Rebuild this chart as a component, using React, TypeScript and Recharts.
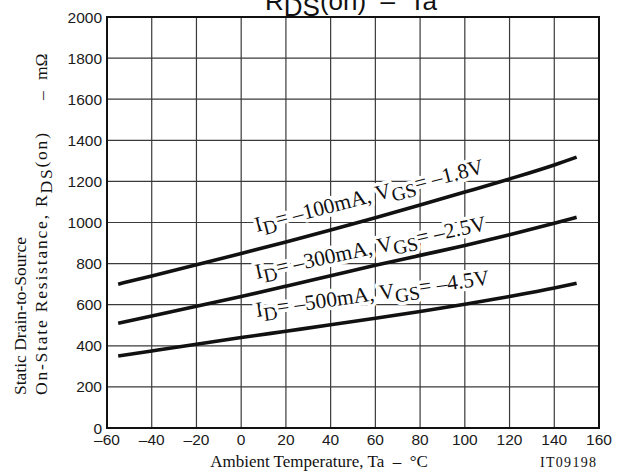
import {
  LineChart,
  Line,
  XAxis,
  YAxis,
  CartesianGrid,
  ReferenceArea,
  ReferenceDot,
} from "recharts";

// ambient temperature, degC
const temps = [-55, -40, -20, 0, 20, 40, 60, 80, 100, 120, 140, 150];
// RDS(on), mOhm
const rds100mA = [700, 740, 794, 849, 905, 963, 1023, 1085, 1148, 1212, 1280, 1318];
const rds300mA = [510, 545, 592, 640, 690, 741, 792, 840, 888, 940, 996, 1025];
const rds500mA = [350, 375, 408, 440, 471, 502, 534, 567, 602, 640, 681, 704];

const xTicks = [-60, -40, -20, 0, 20, 40, 60, 80, 100, 120, 140, 160];
const yTicks = [0, 200, 400, 600, 800, 1000, 1200, 1400, 1600, 1800, 2000];

const curveLabels = [
  { id: "100", vgs: "1.8", ta: 7, r: 954, angle: 14.5 },
  { id: "300", vgs: "2.5", ta: 7, r: 725, angle: 12 },
  { id: "500", vgs: "4.5", ta: 7, r: 540, angle: 8 },
];

const SANS = "'Liberation Sans', Arial, Helvetica, sans-serif";
const SERIF = "'Liberation Serif', 'Times New Roman', Times, serif";

const fmtTick = (v: number) => (v < 0 ? `\u2013${Math.abs(v)}` : `${v}`);

function CurveLabel(props: any) {
  const { cx, cy, lab } = props;
  if (cx == null || cy == null) return null;
  return (
    <text
      x={cx}
      y={cy}
      transform={`rotate(${-lab.angle} ${cx} ${cy})`}
      fontFamily={SERIF}
      fontSize={21.5}
      fill="#111"
      stroke="#fff"
      strokeWidth={7}
      strokeLinejoin="round"
      paintOrder="stroke"
    >
      I
      <tspan dy={5} fontSize={19.5}>D</tspan>
      <tspan dy={-5}>{`= \u2013${lab.id}mA, V`}</tspan>
      <tspan dy={5} fontSize={19.5}>GS</tspan>
      <tspan dy={-5}>{`= \u2013${lab.vgs}V`}</tspan>
    </text>
  );
}

export default function App() {
  const data = temps.map((t, i) => ({
    ta: t,
    a: rds100mA[i],
    b: rds300mA[i],
    c: rds500mA[i],
  }));

  const tickStyle = { fill: "#1a1a1a", fontSize: 15.5, fontFamily: SANS };

  return (
    <div
      style={{
        position: "absolute",
        left: 0,
        top: 0,
        width: 626,
        height: 475,
        background: "#fff",
      }}
    >
      <LineChart
        width={626}
        height={475}
        data={data}
        margin={{ top: 17, right: 27, bottom: 17, left: 67 }}
      >
        <CartesianGrid stroke="#3a3a3a" strokeWidth={1.2} />
        <XAxis
          type="number"
          dataKey="ta"
          domain={[-60, 160]}
          ticks={xTicks}
          interval={0}
          tickFormatter={fmtTick}
          tickLine={false}
          axisLine={false}
          tickSize={0}
          tickMargin={6}
          height={30}
          tick={tickStyle}
        />
        <YAxis
          type="number"
          domain={[0, 2000]}
          ticks={yTicks}
          interval={0}
          tickLine={false}
          axisLine={false}
          tickSize={0}
          tickMargin={5}
          width={40}
          tick={tickStyle}
        />
        <ReferenceArea
          x1={-60}
          x2={160}
          y1={0}
          y2={2000}
          fill="none"
          fillOpacity={0}
          stroke="#111"
          strokeWidth={2}
        />
        <Line type="monotone" dataKey="a" stroke="#111" strokeWidth={3.6} dot={false} isAnimationActive={false} />
        <Line type="monotone" dataKey="b" stroke="#111" strokeWidth={3.6} dot={false} isAnimationActive={false} />
        <Line type="monotone" dataKey="c" stroke="#111" strokeWidth={3.6} dot={false} isAnimationActive={false} />
        {curveLabels.map((l) => (
          <ReferenceDot
            key={l.id}
            x={l.ta}
            y={l.r}
            r={0}
            shape={(p: any) => <CurveLabel {...p} lab={l} />}
          />
        ))}
      </LineChart>
      <svg
        width={626}
        height={475}
        style={{ position: "absolute", left: 0, top: 0, pointerEvents: "none" }}
      >
        <text x={351} y={10} textAnchor="middle" fontFamily={SANS} fontSize={26} fill="#111">
          R
          <tspan dy={6}>DS</tspan>
          <tspan dy={-6}>{"(on)\u00a0\u00a0\u2013\u00a0\u00a0Ta"}</tspan>
        </text>
        <text
          x={26}
          y={395}
          transform="rotate(-90 26 395)"
          fontFamily={SERIF}
          fontSize={17.5}
          fill="#111"
        >
          Static Drain-to-Source
        </text>
        <g transform="rotate(-90 47 395)" fontFamily={SERIF} fontSize={17.5} fill="#111">
          <text x={47} y={395} textLength={262} lengthAdjust="spacing">
            On-State Resistance, R
            <tspan dy={5}>DS</tspan>
            <tspan dy={-5}>(on)</tspan>
          </text>
          <text x={47 + 295} y={395}>{"\u2013"}</text>
          <text x={47 + 315} y={395}>{"m\u03a9"}</text>
        </g>
        <text x={319} y={467} textAnchor="middle" fontFamily={SERIF} fontSize={17} fill="#111">
          {"Ambient Temperature, Ta\u00a0\u00a0\u2013\u00a0\u00a0\u00b0C"}
        </text>
        <text x={540} y={467} fontFamily={SERIF} fontSize={14} textLength={56} fill="#111">
          IT09198
        </text>
      </svg>
    </div>
  );
}
